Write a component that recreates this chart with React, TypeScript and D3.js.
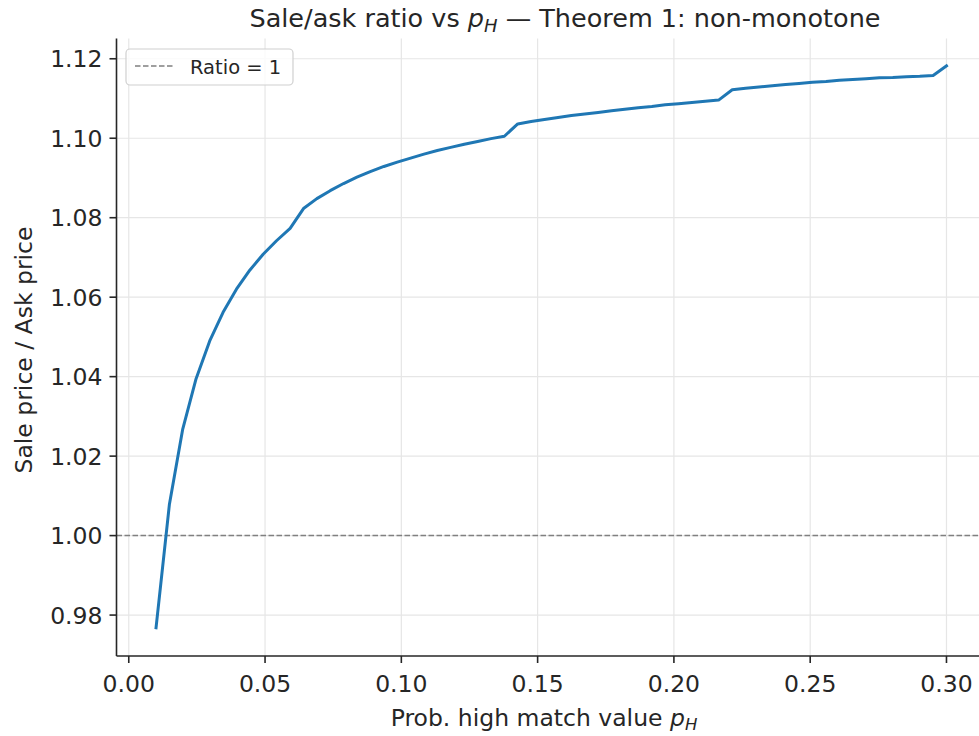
import React from "react";
import * as d3 from "d3";

const pH = [
  0.0100, 0.0149, 0.0198, 0.0247, 0.0297, 0.0346, 0.0395, 0.0444, 0.0493, 0.0542,
  0.0592, 0.0641, 0.0690, 0.0739, 0.0788, 0.0837, 0.0886, 0.0936, 0.0985, 0.1034,
  0.1083, 0.1132, 0.1181, 0.1231, 0.1280, 0.1329, 0.1378, 0.1427, 0.1476, 0.1525,
  0.1575, 0.1624, 0.1673, 0.1722, 0.1771, 0.1820, 0.1869, 0.1919, 0.1968, 0.2017,
  0.2066, 0.2115, 0.2164, 0.2214, 0.2263, 0.2312, 0.2361, 0.2410, 0.2459, 0.2508,
  0.2558, 0.2607, 0.2656, 0.2705, 0.2754, 0.2803, 0.2853, 0.2902, 0.2951, 0.3000,
];

const ratio = [
  0.9768, 1.0078, 1.0268, 1.0395, 1.0490, 1.0562, 1.0620, 1.0668, 1.0708, 1.0742,
  1.0773, 1.0823, 1.0848, 1.0868, 1.0886, 1.0902, 1.0916, 1.0929, 1.0940, 1.0950,
  1.0960, 1.0969, 1.0977, 1.0985, 1.0992, 1.0999, 1.1005, 1.1036, 1.1042, 1.1047,
  1.1052, 1.1057, 1.1061, 1.1065, 1.1069, 1.1073, 1.1077, 1.1080, 1.1084, 1.1087,
  1.1090, 1.1093, 1.1096, 1.1122, 1.1126, 1.1129, 1.1132, 1.1135, 1.1138, 1.1141,
  1.1143, 1.1146, 1.1148, 1.1150, 1.1152, 1.1153, 1.1155, 1.1156, 1.1158, 1.1182,
];

const xTicks = [0.0, 0.05, 0.1, 0.15, 0.2, 0.25, 0.3];
const yTicks = [0.98, 1.0, 1.02, 1.04, 1.06, 1.08, 1.1, 1.12];
const refLine = 1.0;

const W = 979;
const H = 736;
const FONT = "DejaVu Sans, sans-serif";
const TXT = "#262626";

export default function App() {
  const x = d3.scaleLinear().domain([-0.0045, 0.3145]).range([116.5, 986]);
  const y = d3.scaleLinear().domain([0.9697, 1.1251]).range([656, 38.5]);
  const line = d3
    .line<number>()
    .x((_, i) => x(pH[i]))
    .y((d) => y(d));
  const left = x.range()[0];
  const right = x.range()[1];
  const top = y.range()[1];
  const bottom = y.range()[0];

  return (
    <svg
      width={W}
      height={H}
      style={{ position: "absolute", left: 0, top: 0, background: "#fff" }}
      fontFamily={FONT}
    >
      <rect x={0} y={0} width={W} height={H} fill="#fff" />
      {/* grid */}
      {xTicks.map((t) => (
        <line key={"gx" + t} x1={x(t)} x2={x(t)} y1={top} y2={bottom} stroke="#e6e6e6" strokeWidth={1.2} />
      ))}
      {yTicks.map((t) => (
        <line key={"gy" + t} x1={left} x2={right} y1={y(t)} y2={y(t)} stroke="#e6e6e6" strokeWidth={1.2} />
      ))}
      {/* reference line */}
      <line
        x1={left}
        x2={right}
        y1={y(refLine)}
        y2={y(refLine)}
        stroke="#808080"
        strokeWidth={1.5}
        strokeDasharray="5.5,2.5"
      />
      {/* data line */}
      <path d={line(ratio) || ""} fill="none" stroke="#1f77b4" strokeWidth={3} strokeLinejoin="round" strokeLinecap="square" />
      {/* spines */}
      <line x1={left} x2={left} y1={top} y2={bottom} stroke={TXT} strokeWidth={1.6} />
      <line x1={left} x2={right} y1={bottom} y2={bottom} stroke={TXT} strokeWidth={1.6} />
      {/* x ticks */}
      {xTicks.map((t) => (
        <g key={"xt" + t}>
          <line x1={x(t)} x2={x(t)} y1={bottom} y2={bottom + 7} stroke={TXT} strokeWidth={1.6} />
          <text x={x(t)} y={bottom + 36} textAnchor="middle" fontSize={23.5} fill={TXT}>
            {t.toFixed(2)}
          </text>
        </g>
      ))}
      {/* y ticks */}
      {yTicks.map((t) => (
        <g key={"yt" + t}>
          <line x1={left - 7} x2={left} y1={y(t)} y2={y(t)} stroke={TXT} strokeWidth={1.6} />
          <text x={left - 14} y={y(t) + 8.5} textAnchor="end" fontSize={23.5} fill={TXT}>
            {t.toFixed(2)}
          </text>
        </g>
      ))}
      {/* axis labels */}
      <text x={544} y={726} textAnchor="middle" fontSize={23.5} fill={TXT}>
        Prob. high match value <tspan fontStyle="italic">p</tspan>
        <tspan fontStyle="italic" fontSize={16.5} dy={4}>H</tspan>
      </text>
      <text
        transform={`translate(32,350) rotate(-90)`}
        textAnchor="middle"
        fontSize={23.5}
        fill={TXT}
      >
        Sale price / Ask price
      </text>
      {/* title */}
      <text x={565} y={27} textAnchor="middle" fontSize={25.5} fill={TXT}>
        Sale/ask ratio vs <tspan fontStyle="italic">p</tspan>
        <tspan fontStyle="italic" fontSize={18} dy={4.5}>H</tspan>
        <tspan dy={-4.5}> — Theorem 1: non-monotone</tspan>
      </text>
      {/* legend */}
      <rect x={126} y={49} width={167} height={36} rx={4} fill="#fff" fillOpacity={0.8} stroke="#d0d0d0" strokeWidth={1.2} />
      <line x1={135} x2={174} y1={66} y2={66} stroke="#808080" strokeWidth={1.5} strokeDasharray="5.5,2.5" />
      <text x={190} y={74} fontSize={19.5} fill={TXT}>
        Ratio = 1
      </text>
    </svg>
  );
}
